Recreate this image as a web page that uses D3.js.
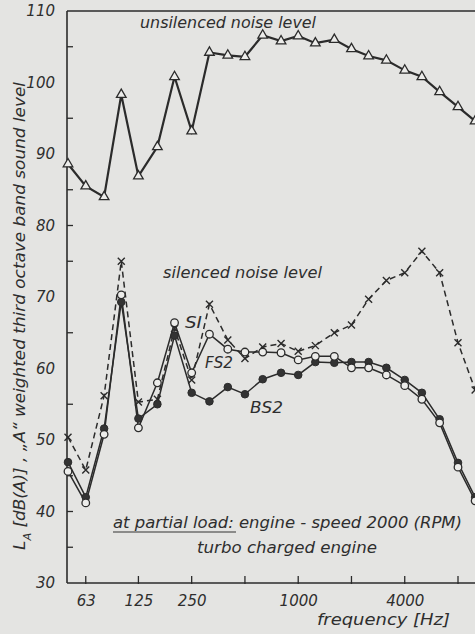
<!DOCTYPE html>
<html>
<head>
<meta charset="utf-8">
<script src="https://cdn.jsdelivr.net/npm/d3@7"></script>
<style>
  html, body { margin: 0; padding: 0; background: #e4e4e2; }
  svg { display: block; }
  text { font-family: "DejaVu Sans", sans-serif; font-style: italic; fill: #2e2e2e; }
</style>
</head>
<body>
<svg id="chart" width="475" height="634"></svg>
<script>
// ---- data ----
const frequencies = [50,63,80,100,125,160,200,250,315,400,500,630,800,1000,1250,1600,2000,2500,3150,4000,5000,6300,8000,10000];
const unsilenced = [88.6,85.5,84.0,98.3,86.9,91.0,100.8,93.2,104.2,103.8,103.6,106.6,105.8,106.5,105.5,106.0,104.7,103.7,103.1,101.7,100.8,98.7,96.6,94.6];
const silencedSI  = [50.4,45.8,56.2,75.0,55.3,55.7,65.6,58.4,69.0,64.0,61.4,63.0,63.5,62.4,63.2,65.0,66.1,69.7,72.3,73.4,76.4,73.4,63.6,57.0];
const silencedFS2 = [45.6,41.2,50.8,70.3,51.7,58.0,66.4,59.4,64.8,62.7,62.3,62.3,62.2,61.2,61.7,61.7,60.1,60.1,59.1,57.6,55.7,52.4,46.2,41.5];
const silencedBS2 = [46.9,42.0,51.6,69.3,53.0,55.0,64.6,56.6,55.4,57.4,56.4,58.5,59.4,59.1,60.9,60.8,60.9,60.9,60.1,58.4,56.6,52.9,46.8,42.0];
const yTickLabels = [30,40,50,60,70,80,90,100,110];
const yMinorTicks = [35,45,55,65,75,85,95,105];
const xTickFreqs = [63,125,250,500,1000,2000,4000,8000];
const xTickLabels = ["63","125","250","","1000","","4000",""];

// ---- layout ----
const svg = d3.select("#chart");
const W = 475, H = 634;
const plotLeft = 67, plotTop = 11, plotBottom = 583;
const ink = "#2b2b2b";

svg.append("rect").attr("width", W).attr("height", H).attr("fill", "#e4e4e2");

const x = d3.scaleLog().domain([50, 8000]).range([68, 458]);
const y = d3.scaleLinear().domain([30, 110]).range([plotBottom, plotTop]);

// axes frame
svg.append("line").attr("x1", plotLeft).attr("x2", plotLeft).attr("y1", plotTop).attr("y2", plotBottom)
  .attr("stroke", ink).attr("stroke-width", 1.6);
svg.append("line").attr("x1", plotLeft).attr("x2", W).attr("y1", plotBottom).attr("y2", plotBottom)
  .attr("stroke", ink).attr("stroke-width", 1.6);
svg.append("line").attr("x1", plotLeft).attr("x2", W).attr("y1", plotTop).attr("y2", plotTop)
  .attr("stroke", ink).attr("stroke-width", 1.4);

// y axis labels + inside ticks
const yAxis = d3.axisLeft(y).tickValues(yTickLabels).tickSize(0).tickPadding(12)
  .tickFormat(d => d);
const gy = svg.append("g").attr("transform", `translate(${plotLeft},0)`).call(yAxis);
gy.select(".domain").remove();
gy.selectAll("text").style("font-size", "15px").style("font-family", "DejaVu Sans")
  .style("font-style", "italic").attr("fill", "#333");
svg.append("g").selectAll("line").data(yMinorTicks.concat([40, 80])).join("line")
  .attr("x1", plotLeft).attr("x2", plotLeft + 6)
  .attr("y1", d => y(d)).attr("y2", d => y(d))
  .attr("stroke", ink).attr("stroke-width", 1.3);

// x axis labels + inside ticks
const xAxis = d3.axisBottom(x).tickValues(xTickFreqs).tickSize(0).tickPadding(12)
  .tickFormat((d, i) => xTickLabels[i]);
const gx = svg.append("g").attr("transform", `translate(0,${plotBottom})`).call(xAxis);
gx.select(".domain").remove();
gx.selectAll("text").style("font-size", "15px").style("font-family", "DejaVu Sans")
  .style("font-style", "italic").attr("fill", "#333");
svg.append("g").selectAll("line").data(xTickFreqs).join("line")
  .attr("x1", d => x(d)).attr("x2", d => x(d))
  .attr("y1", plotBottom - 7).attr("y2", plotBottom + 1)
  .attr("stroke", ink).attr("stroke-width", 1.3);

// ---- series ----
const line = d3.line().x((d, i) => x(frequencies[i])).y(d => y(d));
const plot = svg.append("g");

plot.append("path").datum(silencedBS2).attr("d", line)
  .attr("fill", "none").attr("stroke", ink).attr("stroke-width", 1.5);
plot.append("path").datum(silencedFS2).attr("d", line)
  .attr("fill", "none").attr("stroke", ink).attr("stroke-width", 1.5);
plot.append("path").datum(silencedSI).attr("d", line)
  .attr("fill", "none").attr("stroke", ink).attr("stroke-width", 1.5)
  .attr("stroke-dasharray", "6,4");
plot.append("path").datum(unsilenced).attr("d", line)
  .attr("fill", "none").attr("stroke", ink).attr("stroke-width", 2.2);

// markers
plot.append("g").selectAll("path").data(unsilenced).join("path")
  .attr("transform", (d, i) => `translate(${x(frequencies[i])},${y(d)})`)
  .attr("d", d3.symbol(d3.symbolTriangle, 40))
  .attr("fill", "#ececea").attr("stroke", ink).attr("stroke-width", 1.3);

plot.append("g").selectAll("path").data(silencedSI).join("path")
  .attr("transform", (d, i) => `translate(${x(frequencies[i])},${y(d)})`)
  .attr("d", "M-3.5,-3.5L3.5,3.5M-3.5,3.5L3.5,-3.5")
  .attr("fill", "none").attr("stroke", ink).attr("stroke-width", 1.4);

plot.append("g").selectAll("circle").data(silencedBS2).join("circle")
  .attr("cx", (d, i) => x(frequencies[i])).attr("cy", d => y(d)).attr("r", 3.8)
  .attr("fill", "#333").attr("stroke", ink).attr("stroke-width", 1);

plot.append("g").selectAll("circle").data(silencedFS2).join("circle")
  .attr("cx", (d, i) => x(frequencies[i])).attr("cy", d => y(d)).attr("r", 3.8)
  .attr("fill", "#ececea").attr("stroke", ink).attr("stroke-width", 1.3);

// ---- texts ----
function label(txt, xx, yy, len, size, anchor) {
  const t = svg.append("text").attr("x", xx).attr("y", yy)
    .style("font-size", (size || 15) + "px").attr("text-anchor", anchor || "start").text(txt);
  if (len) t.attr("textLength", len).attr("lengthAdjust", "spacingAndGlyphs");
  return t;
}
label("unsilenced noise level", 140, 28, 176);
label("silenced noise level", 163, 278, 159);
label("SI", 185, 328, 17);
label("FS2", 205, 368, 28);
label("BS2", 250, 413, 33);
label("at partial load: engine - speed 2000 (RPM)", 113, 528, 349);
svg.append("line").attr("x1", 113).attr("x2", 236).attr("y1", 532).attr("y2", 532)
  .attr("stroke", "#333").attr("stroke-width", 1.2);
label("turbo charged engine", 197, 553, 180);
label("frequency [Hz]", 317, 625, 133);

// y axis title (rotated)
const yt = svg.append("text")
  .attr("transform", "translate(25,550) rotate(-90)")
  .style("font-size", "15px").attr("textLength", 468).attr("lengthAdjust", "spacingAndGlyphs");
yt.append("tspan").text("L");
yt.append("tspan").attr("baseline-shift", "sub").style("font-size", "10px").text("A");
yt.append("tspan").text(" [dB(A)] , \u201EA\u201C weighted third octave band sound level");
</script>
</body>
</html>
